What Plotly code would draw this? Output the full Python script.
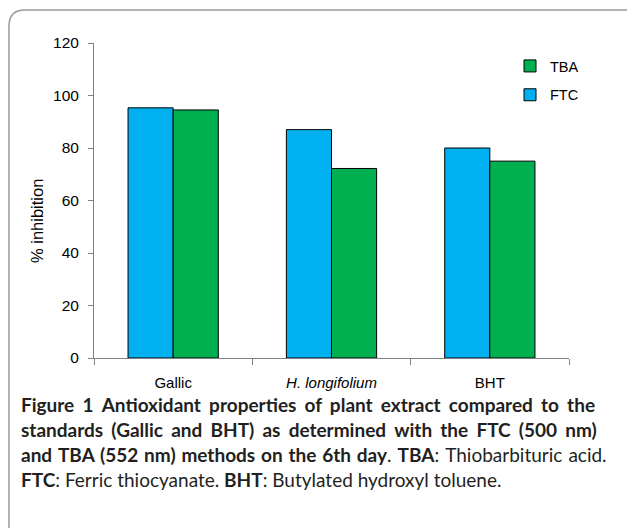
import plotly.graph_objects as go

categories = ["Gallic", "<i>H. longifolium</i>", "BHT"]
ftc_values = [95.3, 87.0, 80.0]
tba_values = [94.5, 72.2, 75.0]
y_ticks = [0, 20, 40, 60, 80, 100, 120]

W, H = 627, 528
L, R, T, B = 94, 58, 43, 170
pw, ph = W - L - R, H - T - B

def px(x):
    return (x - L) / pw

def py(y):
    return (H - B - y) / ph

fig = go.Figure()
fig.add_bar(x=categories, y=ftc_values, name="FTC", legendgroup="ftc", legendrank=2,
            marker=dict(color="#00B0F0", line=dict(color="#000000", width=1)))
fig.add_bar(x=categories, y=tba_values, name="TBA", legendgroup="tba", legendrank=1,
            marker=dict(color="#00B050", line=dict(color="#000000", width=1)))

fig.update_layout(
    width=W, height=H,
    margin=dict(l=L, r=R, t=T, b=B, pad=0),
    paper_bgcolor="white", plot_bgcolor="white",
    barmode="group", bargap=0.43, bargroupgap=0,
    font=dict(family="Liberation Sans, Arial", size=15, color="#000000"),
    legend=dict(x=px(510), y=py(50), xanchor="left", yanchor="top",
                traceorder="grouped", font=dict(size=14.5),
                bgcolor="rgba(0,0,0,0)", tracegroupgap=7),
    showlegend=True,
)
fig.update_xaxes(
    showline=True, linecolor="#808080", linewidth=1,
    ticks="outside", tickson="boundaries", ticklen=6, tickcolor="#808080",
    showgrid=False, range=[-0.5, 2.5], tickfont=dict(size=15),
    ticklabelstandoff=11,
)
fig.update_yaxes(
    range=[0, 120], tickvals=y_ticks, showline=True, linecolor="#808080",
    linewidth=1, ticks="outside", ticklen=5, tickcolor="#808080",
    showgrid=False, zeroline=False, tickfont=dict(size=15.5),
    ticklabelstandoff=6,
)
fig.add_annotation(text="% inhibition", xref="paper", yref="paper",
                   x=px(37), y=py(221), textangle=-90, showarrow=False,
                   xanchor="center", yanchor="middle",
                   font=dict(family="Liberation Sans, Arial", size=16.5, color="#000000"))

# rounded frame
x0, y0, r = 9, 10, 16
x1, y1 = 640, 540
path = (f"M {px(x0)},{py(y1)} L {px(x0)},{py(y0 + r)} "
        f"Q {px(x0)},{py(y0)} {px(x0 + r)},{py(y0)} L {px(x1)},{py(y0)}")
fig.add_shape(type="path", xref="paper", yref="paper", path=path,
              line=dict(color="#999999", width=1.5))

TS = " \u2009\u200a"  # space + thin + hair space (justification)
HS = " \u200a"        # space + hair space
caption = [
    "<b>" + TS.join("Figure 1 Antioxidant properties of plant extract compared to the".split(" ")) + "</b>",
    "<b>" + TS.join("standards (Gallic and BHT) as determined with the FTC (500 nm)".split(" ")) + "</b>",
    HS.join("<b>and TBA (552 nm) methods on the 6th day</b>. <b>TBA</b>: Thiobarbituric acid.".split(" ")),
    "<b>FTC</b>: Ferric thiocyanate. <b>BHT</b>: Butylated hydroxyl toluene.",
]
for i, line in enumerate(caption):
    fig.add_annotation(text=line, xref="paper", yref="paper",
                       x=px(19), y=py(404 + i * 25.3), xanchor="left",
                       yanchor="middle", showarrow=False,
                       font=dict(family="Lato, Open Sans", size=19, color="#231F20"))

fig.write_html("out.html", config={"displayModeBar": False},
               post_script="document.body.style.margin='0';")
